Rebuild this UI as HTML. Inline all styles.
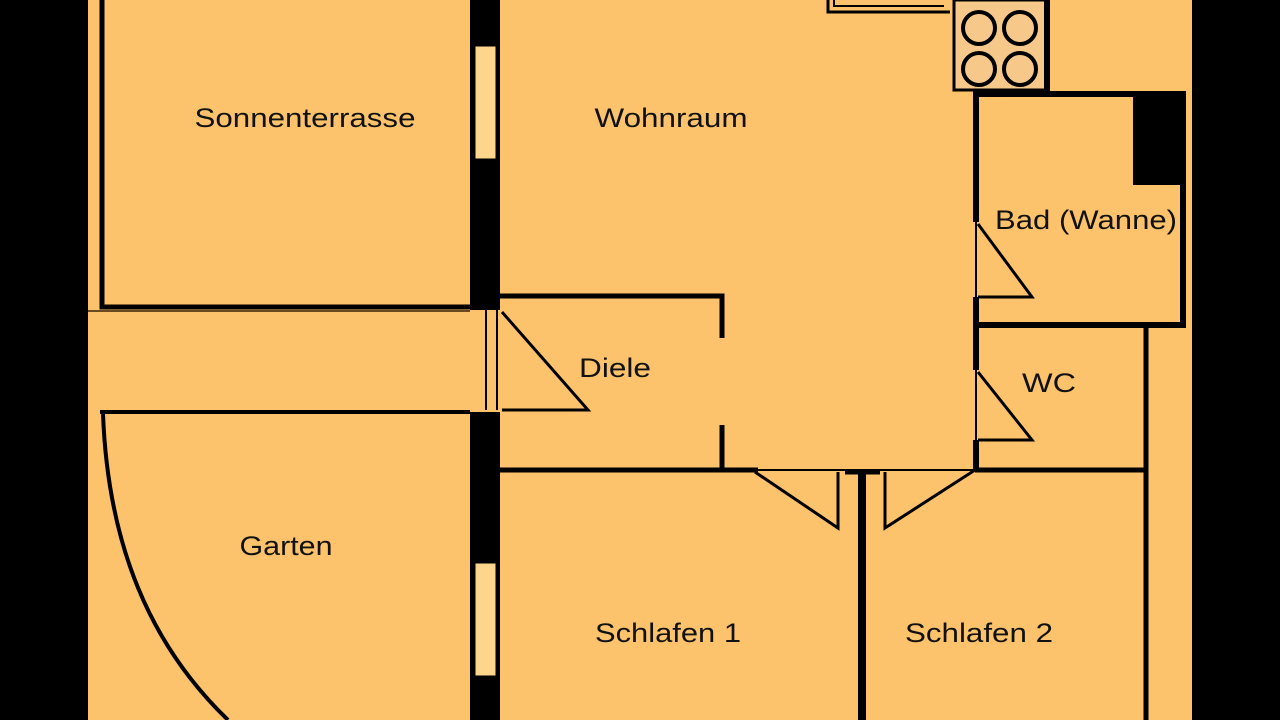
<!DOCTYPE html>
<html><head><meta charset="utf-8"><style>
html,body{margin:0;padding:0;background:#000;}
svg{display:block}
text{font-family:"Liberation Sans",sans-serif;font-size:27px;fill:#111;text-anchor:middle;}
</style></head><body>
<svg width="1280" height="720" viewBox="0 0 1280 720" xmlns="http://www.w3.org/2000/svg">
<rect x="0" y="0" width="1280" height="720" fill="#000"/>
<rect x="88" y="0" width="1104" height="720" fill="#fcc36c"/>
<g fill="none" stroke="#000">
<path d="M102,0 V307 H470" stroke-width="5"/>
<path d="M100,412 H470" stroke-width="4"/>
<path d="M103,414 C108,545 150,645 228,720" stroke-width="4"/>
<path d="M88,311 H470" stroke-width="2" stroke="#6a4a20"/>
<path d="M486,310 V410 M497,310 V410" stroke-width="2"/>
<path d="M500,296 H722 V338" stroke-width="5"/>
<path d="M722,425 V470" stroke-width="5"/>
<path d="M502,312 L588,410 H502" stroke-width="3"/>
<path d="M500,470 H758" stroke-width="5"/>
<path d="M758,470 H975" stroke-width="2"/>
<path d="M755,472 L838,528 V472" stroke-width="3"/>
<path d="M862,470 V720" stroke-width="8"/>
<path d="M845,472 H880" stroke-width="5"/>
<path d="M885,472 V528 L975,470" stroke-width="3"/>
<path d="M975,470 H1145" stroke-width="5"/>
<path d="M1146,325 V720" stroke-width="5"/>
<path d="M976,92 V222 M976,297 V370 M976,440 V470" stroke-width="6"/>
<path d="M976,222 V297 M976,370 V440" stroke-width="2"/>
<path d="M973,94 H1183 V325 H973" stroke-width="6"/>
<path d="M978,224 L1032,297 H978" stroke-width="3"/>
<path d="M978,372 L1032,440 H978" stroke-width="3"/>
<path d="M828,0 V12 H950" stroke-width="3"/>
<path d="M834,0 V6 H944" stroke-width="2"/>
</g>
<rect x="470" y="0" width="30" height="310" fill="#000"/>
<rect x="475" y="46" width="21" height="113" fill="#fdd58c" stroke="#000" stroke-width="1"/>
<rect x="470" y="412" width="30" height="308" fill="#000"/>
<rect x="475" y="563" width="21" height="113" fill="#fdd58c" stroke="#000" stroke-width="1"/>
<rect x="1133" y="97" width="48" height="88" fill="#000"/>
<rect x="954" y="0" width="93" height="90" fill="#f6c88a" stroke="#000" stroke-width="3"/>
<rect x="1044" y="0" width="6" height="92" fill="#000"/>
<g fill="none" stroke="#000" stroke-width="4">
<circle cx="979" cy="28" r="16"/><circle cx="1020" cy="28" r="16"/>
<circle cx="979" cy="69" r="16"/><circle cx="1020" cy="69" r="16"/>
</g>
<text x="305" y="127" textLength="221" lengthAdjust="spacingAndGlyphs">Sonnenterrasse</text>
<text x="671" y="127" textLength="153" lengthAdjust="spacingAndGlyphs">Wohnraum</text>
<text x="1086" y="229" textLength="182" lengthAdjust="spacingAndGlyphs">Bad (Wanne)</text>
<text x="615" y="377" textLength="72" lengthAdjust="spacingAndGlyphs">Diele</text>
<text x="1049" y="392" textLength="54" lengthAdjust="spacingAndGlyphs">WC</text>
<text x="286" y="555" textLength="93" lengthAdjust="spacingAndGlyphs">Garten</text>
<text x="668" y="642" textLength="146" lengthAdjust="spacingAndGlyphs">Schlafen 1</text>
<text x="979" y="642" textLength="148" lengthAdjust="spacingAndGlyphs">Schlafen 2</text>
</svg>
</body></html>
